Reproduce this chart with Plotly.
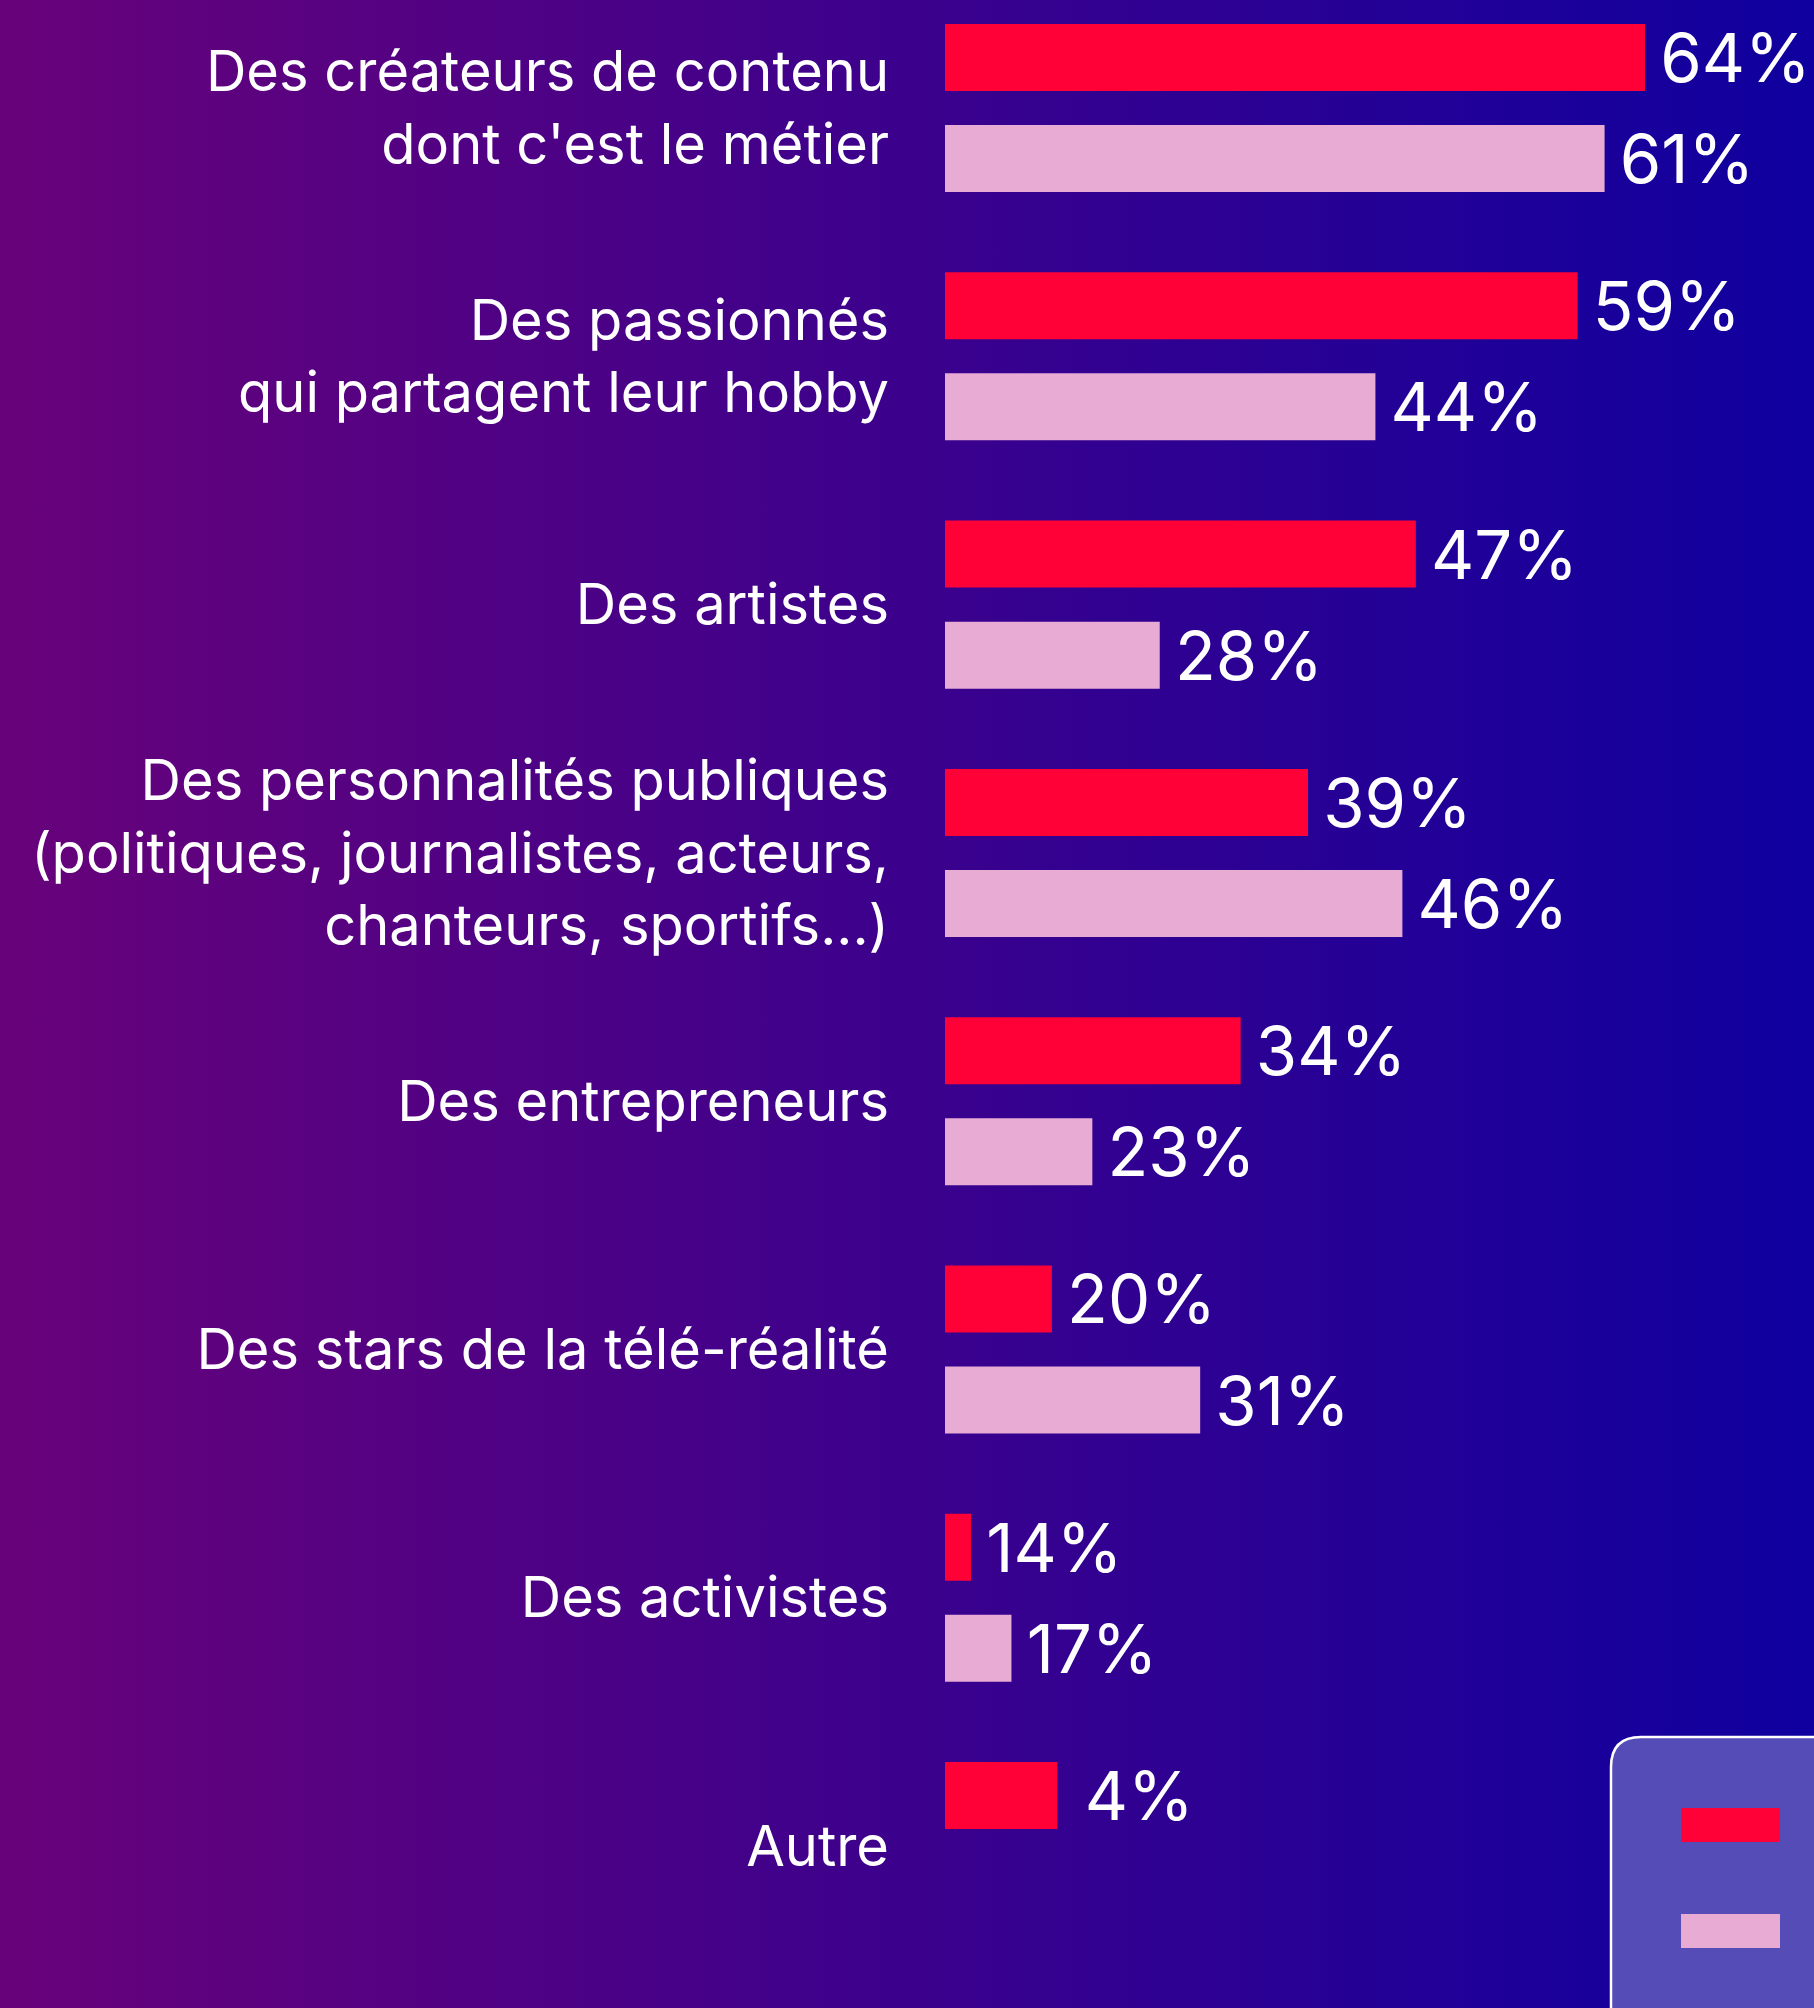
import base64
import plotly.graph_objects as go

# ---- data ----
categories = [
    "Des créateurs de contenu<br>dont c'est le métier",
    "Des passionnés<br>qui partagent leur hobby",
    "Des artistes",
    "Des personnalités publiques<br>(politiques, journalistes, acteurs,<br>chanteurs, sportifs...)",
    "Des entrepreneurs",
    "Des stars de la télé-réalité",
    "Des activistes",
    "Autre",
]
# bar lengths (the "Autre" bar is drawn longer than its 4% label)
red_values = [64, 59, 47, 39, 34, 20, 14, 20.4]
pink_values = [61, 44, 28, 46, 23, 31, 17, None]
red_labels = ["64%", "59%", "47%", "39%", "34%", "20%", "14%", "\u20094%"]
pink_labels = ["61%", "44%", "28%", "46%", "23%", "31%", "17%", ""]
series_names = ["2024", "2023"]

W, H = 1814, 2008
RED = "#ff0037"
PINK = "#e8abd4"
VAL_FONT = dict(family="Inter", size=67, color="white")

fig = go.Figure()
fig.add_trace(go.Bar(
    y=categories, x=red_values, orientation="h", name=series_names[0],
    marker=dict(color=RED, line=dict(width=0)),
    text=["\u2009" + t for t in red_labels], textposition="outside",
    textfont=VAL_FONT, constraintext="none", cliponaxis=False, showlegend=False,
))
fig.add_trace(go.Bar(
    y=categories, x=pink_values, orientation="h", name=series_names[1],
    marker=dict(color=PINK, line=dict(width=0)),
    text=["\u2009" + t if t else "" for t in pink_labels], textposition="outside",
    textfont=VAL_FONT, constraintext="none", cliponaxis=False, showlegend=False,
))

# background gradient
svg = (
    f'<svg xmlns="http://www.w3.org/2000/svg" width="{W}" height="{H}" viewBox="0 0 {W} {H}" preserveAspectRatio="none">'
    '<defs><linearGradient id="g" x1="0" y1="0" x2="1" y2="0">'
    '<stop offset="0" stop-color="#68027a"/><stop offset="1" stop-color="#0f009f"/>'
    '</linearGradient></defs>'
    f'<rect x="0" y="0" width="{W}" height="{H}" fill="url(#g)"/></svg>'
)
src = "data:image/svg+xml;base64," + base64.b64encode(svg.encode()).decode()


def px(x):
    return x / W


def py(y):
    return 1 - y / H


# legend box (rounded, partly off-canvas)
r = 30
x0, y0, x1, y1 = 1611, 1737, 1950, 2150
path = (
    f"M {px(x0)},{py(y0 + r)} Q {px(x0)},{py(y0)} {px(x0 + r)},{py(y0)} "
    f"L {px(x1 - r)},{py(y0)} Q {px(x1)},{py(y0)} {px(x1)},{py(y0 + r)} "
    f"L {px(x1)},{py(y1 - r)} Q {px(x1)},{py(y1)} {px(x1 - r)},{py(y1)} "
    f"L {px(x0 + r)},{py(y1)} Q {px(x0)},{py(y1)} {px(x0)},{py(y1 - r)} Z"
)
shapes = [
    dict(type="path", xref="paper", yref="paper", path=path,
         fillcolor="#564cb8", line=dict(color="white", width=2.5), layer="above"),
    dict(type="rect", xref="paper", yref="paper", x0=px(1681), x1=px(1780),
         y0=py(1842), y1=py(1808), fillcolor=RED, line=dict(width=0), layer="above"),
    dict(type="rect", xref="paper", yref="paper", x0=px(1681), x1=px(1780),
         y0=py(1948), y1=py(1914), fillcolor=PINK, line=dict(width=0), layer="above"),
]
annotations = [
    dict(xref="paper", yref="paper", x=px(1810), y=py(1825), text=series_names[0],
         showarrow=False, xanchor="left", yanchor="middle",
         font=dict(family="Inter", size=42, color="white")),
    dict(xref="paper", yref="paper", x=px(1810), y=py(1931), text=series_names[1],
         showarrow=False, xanchor="left", yanchor="middle",
         font=dict(family="Inter", size=42, color="white")),
]

fig.update_layout(
    width=W, height=H, margin=dict(l=0, r=0, t=0, b=0, pad=0),
    paper_bgcolor="#3c018c", plot_bgcolor="rgba(0,0,0,0)",
    barmode="group", bargap=0.186, bargroupgap=0.337,
    showlegend=False,
    images=[dict(source=src, xref="paper", yref="paper", x=0, y=1, sizex=1, sizey=1,
                 xanchor="left", yanchor="top", sizing="stretch", layer="below")],
    shapes=shapes, annotations=annotations,
    xaxis=dict(domain=[945 / W, 1], range=[12.07, 12.07 + 869 / 13.48], visible=False,
               fixedrange=True),
    yaxis=dict(type="category", categoryorder="array", categoryarray=categories,
               range=[7.652, -0.435], showgrid=False, zeroline=False, showline=False,
               ticks="", ticklabelstandoff=55,
               tickfont=dict(family="Inter", size=56, color="white"), fixedrange=True),
    font=dict(family="Inter", color="white"),
)

fig.write_html(
    "out.html",
    config={"displayModeBar": False, "staticPlot": True},
    post_script="document.body.style.margin='0';document.body.style.overflow='hidden';",
)
